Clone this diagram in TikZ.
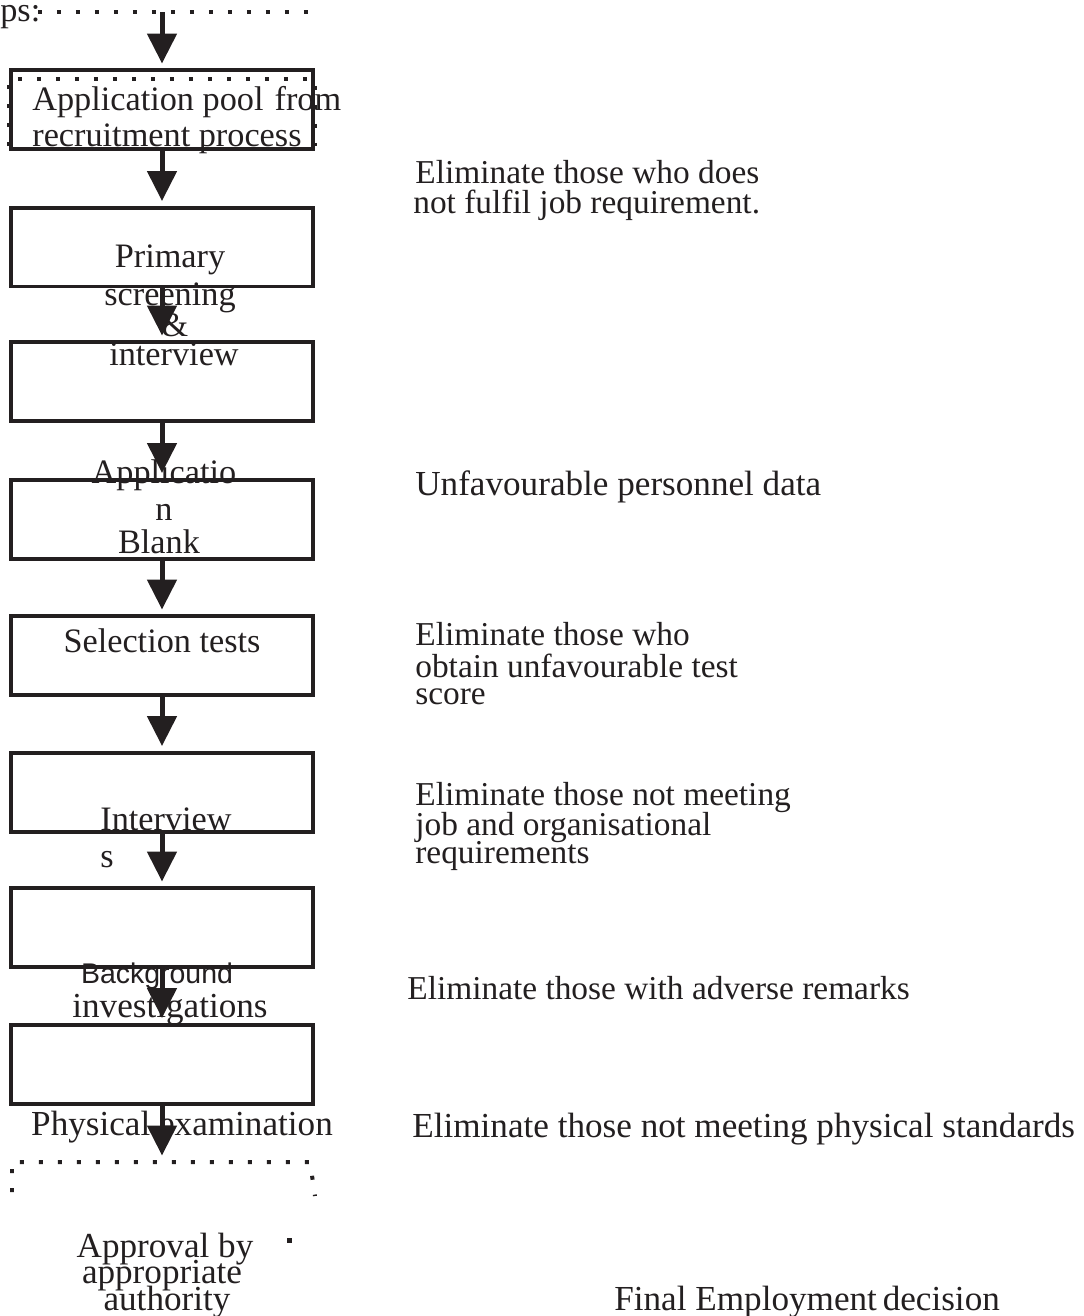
\documentclass[tikz,border=0pt]{standalone}
\usepackage{fontspec}
\setmainfont{Liberation Serif}
\setsansfont{Liberation Sans}
\usetikzlibrary{arrows.meta}
\definecolor{ink}{RGB}{35,31,32}
\begin{document}
\begin{tikzpicture}[x=0.02cm,y=-0.02cm,
  box/.style={draw=ink, line width=0.08cm, minimum width=6.04cm, minimum height=1.58cm, inner sep=0pt, outer sep=0pt},
  flow/.style={draw=ink, line width=0.1cm, -{Triangle[length=0.6cm,width=0.58cm]}, shorten >=0.13cm},
  dotline/.style={draw=ink, line width=0.08cm, dash pattern=on 0.08cm off 0.3cm},
  lbl/.style={text=ink, font=\fontsize{19.5}{23}\selectfont, inner sep=0pt, anchor=base},
  lblw/.style={lbl, anchor=base west},
  big/.style={font=\fontsize{20}{23}\selectfont},
  small/.style={font=\fontsize{19}{23}\selectfont},
  sanslbl/.style={lbl, font=\sffamily\fontsize{16.2}{18}\selectfont},
]
\useasboundingbox (0,0) rectangle (1083,1316);

% top dotted line and fragment text
\node[lblw] (ps) at (0,21) {ps:};
\coordinate (tl) at (38,12);
\coordinate (tr) at (312,12);
\coordinate (top) at (162,12);
\draw[dotline] (tl) -- (tr);

% boxes
\node[box] (b1) at (162,109.5) {};
\node[box] (b2) at (162,247) {};
\node[box] (b3) at (162,381.5) {};
\node[box] (b4) at (162,519) {};
\node[box] (b5) at (162,655.5) {};
\node[box] (b6) at (162,792) {};
\node[box] (b7) at (162,927.5) {};
\node[box] (b8) at (162,1064) {};

% dotted overlay on first box
\draw[dotline] (9,146) -- (9,79) -- (315,79) -- (315,146);

% bottom dotted fragment
\coordinate (bd) at (162,1162);
\draw[dotline] (12,1192) -- (12,1162) -- (310,1162) -- (315,1196);
\fill[ink] (287,1238) rectangle (292,1243);

% arrows
\draw[flow] (top) -- (b1.north);
\draw[flow] (b1.south) -- (b2.north);
\draw[flow] (b2.south) -- (b3.north);
\draw[flow] (b3.south) -- (b4.north);
\draw[flow] (b4.south) -- (b5.north);
\draw[flow] (b5.south) -- (b6.north);
\draw[flow] (b6.south) -- (b7.north);
\draw[flow] (b7.south) -- (b8.north);
\draw[flow] (b8.south) -- (bd);

% box texts
\node[lblw] (t1a) at (32,110) {Application pool\hspace{0.05cm} from};
\node[lblw] (t1b) at (32,146) {recruitment process};
\node[lbl] (t2a) at (170,267) {Primary};
\node[lbl] (t2b) at (170,305) {screening};
\node[lbl] (t2c) at (175,336) {\&};
\node[lbl] (t2d) at (174,365) {interview};
\node[lbl] (t4a) at (164,483) {Applicatio};
\node[lbl] (t4b) at (164,520) {n};
\node[lbl] (t4c) at (159,553) {Blank};
\node[lbl] (t5) at (162,652) {Selection tests};
\node[lblw] (t6a) at (100,830) {Interview};
\node[lblw] (t6b) at (100,867) {s};
\node[sanslbl] (t7a) at (157,983) {Background};
\node[lbl,big] (t7b) at (170,1017) {investigations};
\node[lbl,big] (t8) at (182,1135) {Physical examination};
\node[lbl,big] (t9a) at (165,1257) {Approval by};
\node[lbl,big] (t9b) at (162,1283) {appropriate};
\node[lbl,big] (t9c) at (167,1310) {authority};

% right-hand texts
\node[lblw,small] (r1a) at (415,183) {Eliminate those who does};
\node[lblw,small] (r1b) at (413,213) {not fulfil job requirement.};
\node[lblw,big] (r2) at (415,495) {Unfavourable personnel data};
\node[lblw,small] (r3a) at (415,645) {Eliminate those who};
\node[lblw,small] (r3b) at (415,677) {obtain unfavourable test};
\node[lblw,small] (r3c) at (415,704) {score};
\node[lblw,small] (r4a) at (415,805) {Eliminate those not meeting};
\node[lblw,small] (r4b) at (415,835) {job and organisational};
\node[lblw,small] (r4c) at (415,863) {requirements};
\node[lblw,small] (r5) at (407,999) {Eliminate those with adverse remarks};
\node[lblw,big] (r6) at (412,1137) {Eliminate those not meeting physical standards};
\node[lblw,big] (r7) at (614,1310) {Final Employment\,decision};
\end{tikzpicture}
\end{document}
